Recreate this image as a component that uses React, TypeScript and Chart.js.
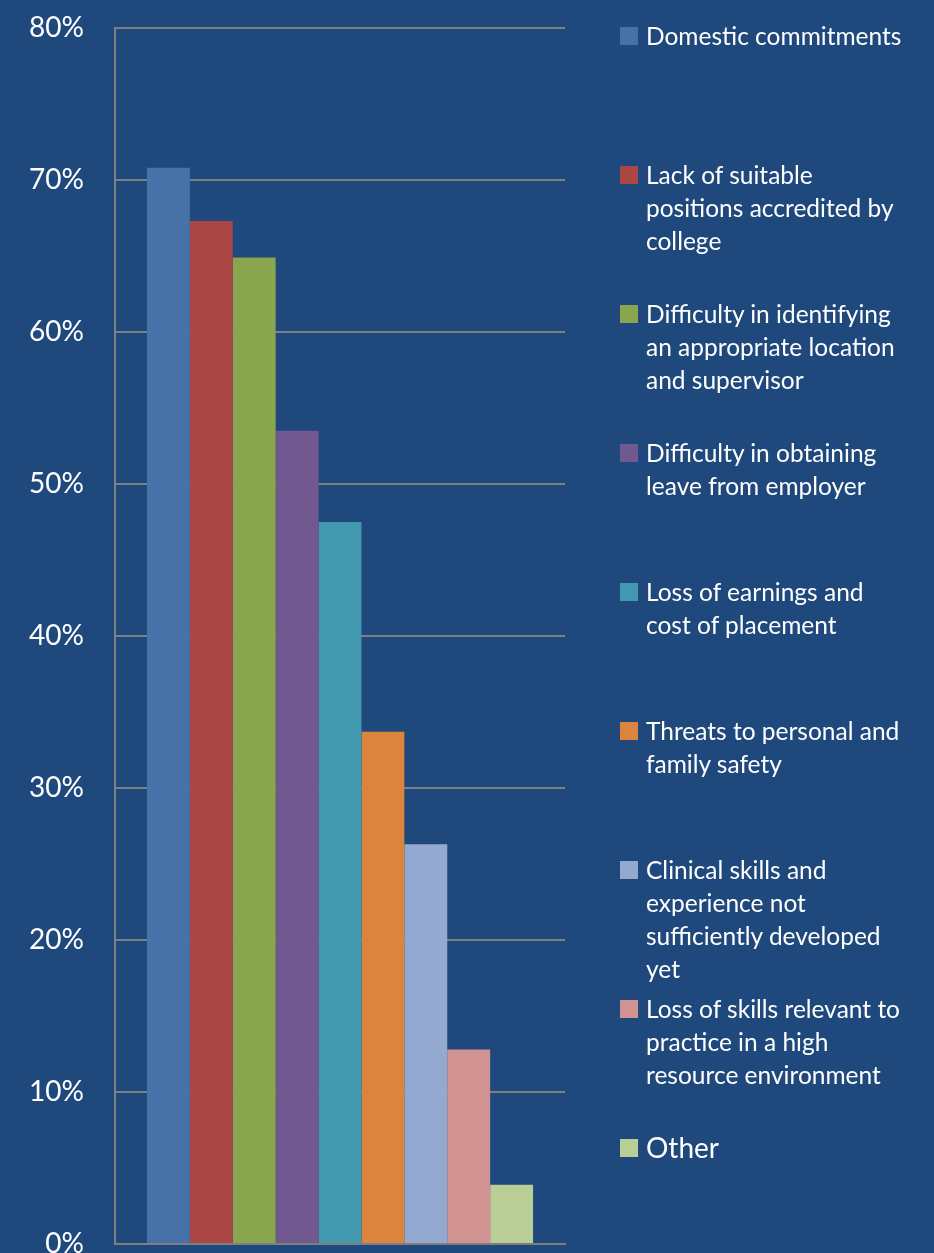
import React, { useEffect, useRef } from "react";
import { Chart, registerables } from "chart.js";

Chart.register(...registerables);

// ---- Data ----
const categories: string[] = [""];
const seriesLabels: string[][] = [
  ["Domestic commitments"],
  ["Lack of suitable", "positions accredited by", "college"],
  ["Difficulty in identifying", "an appropriate location", "and supervisor"],
  ["Difficulty in obtaining", "leave from employer"],
  ["Loss of earnings and", "cost of placement"],
  ["Threats to personal and", "family safety"],
  ["Clinical skills and", "experience not", "sufficiently developed", "yet"],
  ["Loss of skills relevant to", "practice in a high", "resource environment"],
  ["Other"],
];
const seriesValues: number[] = [70.8, 67.3, 64.9, 53.5, 47.5, 33.7, 26.3, 12.8, 3.9];
const seriesColors: string[] = [
  "#4672A8",
  "#AA4643",
  "#89A54E",
  "#71588F",
  "#4198AF",
  "#DB843D",
  "#93A9CF",
  "#D19392",
  "#B9CD96",
];
const yTickValues: number[] = [0, 10, 20, 30, 40, 50, 60, 70, 80];

// ---- Styles ----
const BG = "#1F497D";
const GRID = "#7F7F7F";
const FONT = "Lato, 'Open Sans', sans-serif";

export default function App() {
  const canvasRef = useRef<HTMLCanvasElement | null>(null);

  useEffect(() => {
    if (!canvasRef.current) return;
    const chart = new Chart(canvasRef.current, {
      type: "bar",
      data: {
        labels: categories,
        datasets: seriesLabels.map((lbl, i) => ({
          label: lbl.join(" "),
          data: [seriesValues[i]],
          backgroundColor: seriesColors[i],
          borderWidth: 0,
          categoryPercentage: 0.858,
          barPercentage: 1,
        })),
      },
      options: {
        responsive: false,
        animation: false,
        maintainAspectRatio: false,
        layout: { autoPadding: false, padding: { top: 28, right: 369, bottom: 36, left: 0 } },
        plugins: {
          legend: { display: false },
          tooltip: { enabled: false },
        },
        scales: {
          x: {
            afterFit: (scale: any) => {
              scale.height = 0;
              scale.paddingLeft = 0;
              scale.paddingRight = 0;
              scale.paddingTop = 0;
              scale.paddingBottom = 0;
            },
            grid: { display: false, drawTicks: false },
            ticks: { display: false },
            border: { display: true, color: GRID, width: 2 },
          },
          y: {
            min: 0,
            max: 80,
            afterFit: (scale: any) => {
              scale.width = 115;
              scale.paddingTop = 0;
              scale.paddingBottom = 0;
              scale.paddingLeft = 0;
              scale.paddingRight = 0;
            },
            afterBuildTicks: (scale: any) => {
              scale.ticks = yTickValues.map((v) => ({ value: v }));
            },
            ticks: {
              color: "#FFFFFF",
              padding: 31,
              font: { family: FONT, size: 28 },
              callback: (v: any) => `${v}%`,
            },
            grid: { color: GRID, lineWidth: 2, drawTicks: false },
            border: { display: true, color: GRID, width: 2 },
          },
        },
      },
    });
    return () => chart.destroy();
  }, []);

  return (
    <div
      style={{
        position: "absolute",
        left: 0,
        top: 0,
        width: 934,
        height: 1253,
        overflow: "hidden",
        background: BG,
      }}
    >
      <canvas
        ref={canvasRef}
        width={934}
        height={1280}
        style={{ position: "absolute", left: 0, top: 0, width: 934, height: 1280 }}
      />
      {seriesLabels.map((lines, i) => {
        const isOther = i === seriesLabels.length - 1;
        const fontSize = isOther ? 28 : 24.5;
        const lineH = isOther ? 38 : 33;
        const center = 35 + 139 * i;
        return (
          <div
            key={i}
            style={{
              position: "absolute",
              left: 620,
              top: center - lineH / 2,
              fontFamily: FONT,
              fontSize,
              lineHeight: `${lineH}px`,
              color: "#FFFFFF",
              whiteSpace: "nowrap",
            }}
          >
            <div
              style={{
                position: "absolute",
                left: 0,
                top: lineH / 2 - 8,
                width: 18,
                height: 18,
                background: seriesColors[i],
              }}
            />
            <div style={{ marginLeft: 26 }}>
              {lines.map((ln, j) => (
                <div key={j}>{ln}</div>
              ))}
            </div>
          </div>
        );
      })}
    </div>
  );
}
